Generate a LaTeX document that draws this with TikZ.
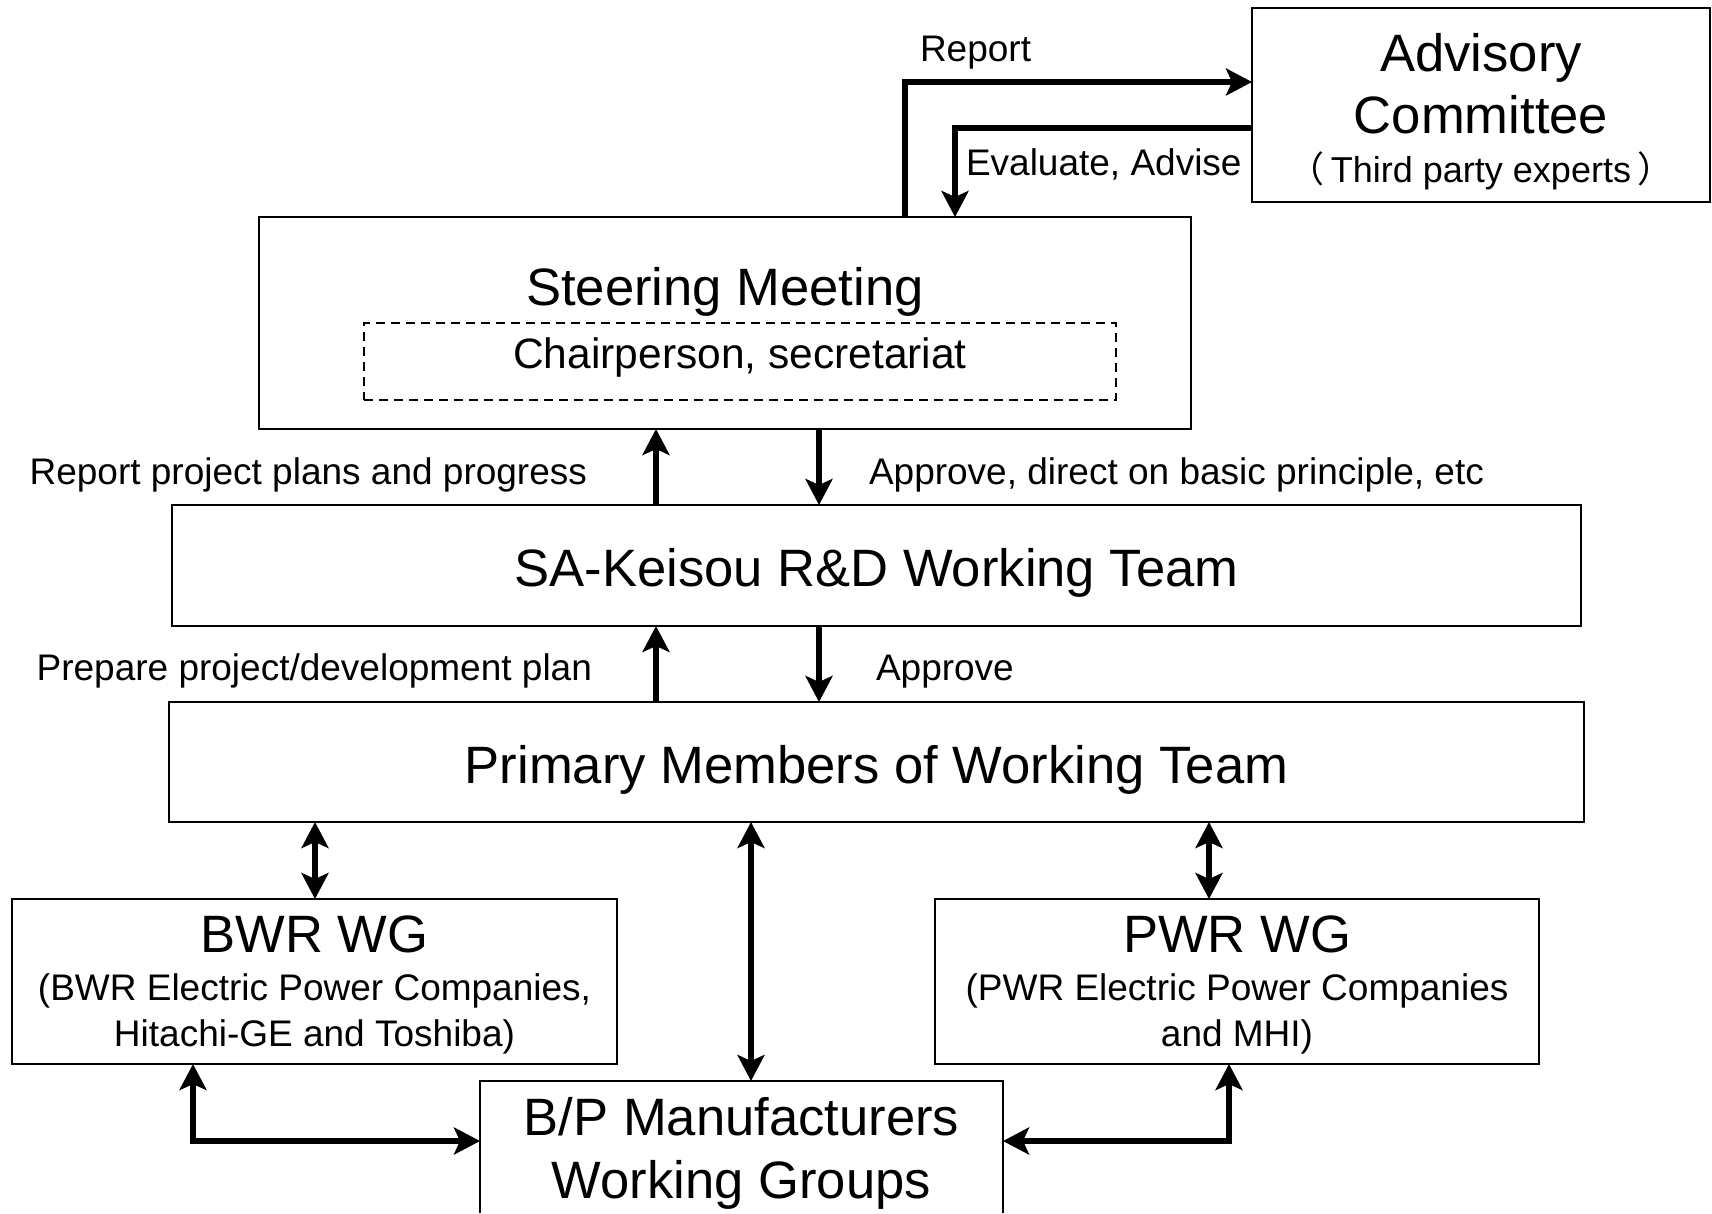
\documentclass[tikz,border=0pt]{standalone}
\usepackage{fontspec}
\setmainfont{Liberation Sans}
\newfontfamily\cjk{Noto Sans CJK JP}
\usetikzlibrary{arrows.meta}
\newcommand\fTitle{\fontsize{52.6pt}{60pt}\selectfont}
\newcommand\fLabel{\fontsize{37pt}{44pt}\selectfont}
\newcommand\fChair{\fontsize{42.5pt}{50pt}\selectfont}
\newcommand\fThird{\fontsize{36pt}{42pt}\selectfont}
\begin{document}
\begin{tikzpicture}[x=1pt,y=-1pt,
  box/.style={draw, line width=2.4pt, inner sep=0pt, outer sep=0pt},
  txt/.style={inner sep=0pt, outer sep=0pt, anchor=base},
  arr/.style={line width=5.5pt, -{Stealth[length=26pt,width=27pt,inset=6pt]}},
  darr/.style={line width=5.5pt, {Stealth[length=26pt,width=27pt,inset=6pt]}-{Stealth[length=26pt,width=27pt,inset=6pt]}}]
\useasboundingbox (0,0) rectangle (1712,1213);
% boxes
\node[box, minimum width=458pt, minimum height=194pt] (adv) at (1481,105) {};
\node[box, minimum width=932pt, minimum height=212pt] (steer) at (725,323) {};
\node[box, dash pattern=on 9pt off 6pt, minimum width=752pt, minimum height=77pt] (chair) at (740,361.5) {};
\node[box, minimum width=1409pt, minimum height=121pt] (sa) at (876.5,565.5) {};
\node[box, minimum width=1415pt, minimum height=120pt] (prim) at (876.5,762) {};
\node[box, minimum width=605pt, minimum height=165pt] (bwr) at (314.5,981.5) {};
\node[box, minimum width=604pt, minimum height=165pt] (pwr) at (1237,981.5) {};
\node[inner sep=0pt, outer sep=0pt, minimum width=523pt, minimum height=132pt] (bp) at (741.5,1147) {};
\draw[line width=2.4pt] (bp.south west) -- (bp.north west) -- (bp.north east) -- (bp.south east);
% texts
\node[txt] (advA) at (1481,71) {\fTitle Advisory};
\node[txt] (advB) at (1481,133) {\fTitle Committee};
\node[txt] (advC) at (1481,182) {\fThird{\cjk （}\kern6pt Third party experts\kern6pt{\cjk ）}};
\node[txt] (steerT) at (725,305) {\fTitle Steering Meeting};
\node[txt] (chairT) at (740,368) {\fChair Chairperson, secretariat};
\node[txt] (saT) at (876.5,586.5) {\fTitle SA-Keisou R\&D Working Team};
\node[txt] (primT) at (876.5,783) {\fTitle Primary Members of Working Team};
\node[txt] (bwrA) at (314.5,952) {\fTitle BWR WG};
\node[txt] (bwrB) at (314.5,1000) {\fLabel (BWR Electric Power Companies,};
\node[txt] (bwrC) at (314.5,1046) {\fLabel Hitachi-GE and Toshiba)};
\node[txt] (pwrA) at (1237,952) {\fTitle PWR WG};
\node[txt] (pwrB) at (1237,1000) {\fLabel (PWR Electric Power Companies};
\node[txt] (pwrC) at (1237,1046) {\fLabel and MHI)};
\node[txt] (bpA) at (741.5,1135) {\fTitle B/P Manufacturers};
\node[txt] (bpB) at (741.5,1198) {\fTitle Working Groups};
% labels
\node[txt, anchor=base west] (lReport) at (920,61) {\fLabel Report};
\node[txt, anchor=base west] (lEval) at (966,175) {\fLabel Evaluate, Advise};
\node[txt, anchor=base east] (lRpp) at (587,484) {\fLabel Report project plans and progress};
\node[txt, anchor=base west] (lApd) at (869,484) {\fLabel Approve, direct on basic principle, etc};
\node[txt, anchor=base east] (lPrep) at (592,680) {\fLabel Prepare project/development plan};
\node[txt, anchor=base west] (lAppr) at (876,680) {\fLabel Approve};
% connectors
\draw[arr] (905,0 |- steer.north) |- (adv.west |- 0,82);
\draw[arr] (adv.west |- 0,128) -| (955,0 |- steer.north);
\draw[arr] (656,0 |- sa.north) -- (656,0 |- steer.south);
\draw[arr] (819,0 |- steer.south) -- (819,0 |- sa.north);
\draw[arr] (656,0 |- prim.north) -- (656,0 |- sa.south);
\draw[arr] (819,0 |- sa.south) -- (819,0 |- prim.north);
\draw[darr] (315,0 |- prim.south) -- (315,0 |- bwr.north);
\draw[darr] (1209,0 |- prim.south) -- (1209,0 |- pwr.north);
\draw[darr] (751,0 |- prim.south) -- (751,0 |- bp.north);
\draw[darr] (193,0 |- bwr.south) |- (bp.west |- 0,1141);
\draw[darr] (1229,0 |- pwr.south) |- (bp.east |- 0,1141);
\end{tikzpicture}
\end{document}
